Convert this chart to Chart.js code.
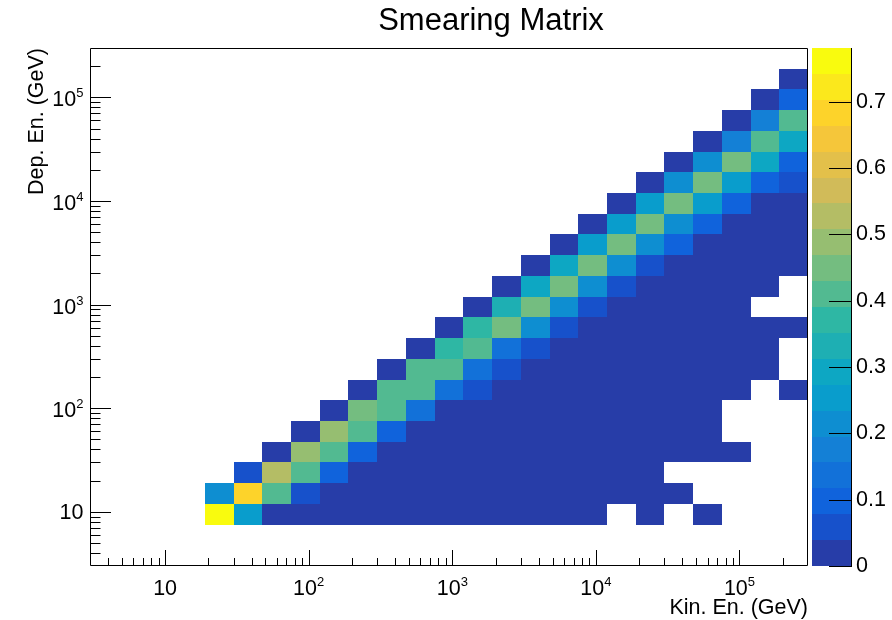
<!DOCTYPE html>
<html>
<head>
<meta charset="utf-8">
<script src="https://cdn.jsdelivr.net/npm/chart.js@4.4.0/dist/chart.umd.min.js"></script>
<style>
html,body{margin:0;padding:0;background:#fff;}
#wrap{width:892px;height:620px;}
</style>
</head>
<body>
<div id="wrap"><canvas id="c" width="892" height="620"></canvas></div>
<script>
// ---------- data ----------
const _ = null;
// log bin edges (GeV), shared by both axes: 25 bins from 3 to 3e5
const binEdges = [3, 4.7547, 7.5357, 11.943, 18.929, 30, 47.547, 75.357, 119.43, 189.29,
  300, 475.47, 753.57, 1194.3, 1892.9, 3000, 4754.7, 7535.7, 11943, 18929,
  30000, 47547, 75357, 119430, 189290, 300000];
const firstDepBin = 2;
// one array per deposited-energy bin (rows), 25 kinetic-energy bins each
const dep02 = [_,_,_,_,0.781,0.25,0.01,0.01,0.01,0.01,0.01,0.01,0.01,0.01,0.01,0.01,0.01,0.01,_,0.01,_,0.01,_,_,_];
const dep03 = [_,_,_,_,0.21,0.68,0.41,0.06,0.01,0.01,0.01,0.01,0.01,0.01,0.01,0.01,0.01,0.01,0.01,0.01,0.01,_,_,_,_];
const dep04 = [_,_,_,_,_,0.06,0.53,0.41,0.11,0.01,0.01,0.01,0.01,0.01,0.01,0.01,0.01,0.01,0.01,0.01,_,_,_,_,_];
const dep05 = [_,_,_,_,_,_,0.01,0.49,0.41,0.11,0.01,0.01,0.01,0.01,0.01,0.01,0.01,0.01,0.01,0.01,0.01,0.01,0.01,_,_];
const dep06 = [_,_,_,_,_,_,_,0.01,0.49,0.41,0.11,0.01,0.01,0.01,0.01,0.01,0.01,0.01,0.01,0.01,0.01,0.01,_,_,_];
const dep07 = [_,_,_,_,_,_,_,_,0.01,0.45,0.41,0.14,0.01,0.01,0.01,0.01,0.01,0.01,0.01,0.01,0.01,0.01,_,_,_];
const dep08 = [_,_,_,_,_,_,_,_,_,0.01,0.41,0.41,0.14,0.06,0.01,0.01,0.01,0.01,0.01,0.01,0.01,0.01,0.01,_,0.01];
const dep09 = [_,_,_,_,_,_,_,_,_,_,0.01,0.41,0.41,0.14,0.06,0.01,0.01,0.01,0.01,0.01,0.01,0.01,0.01,0.01,_];
const dep10 = [_,_,_,_,_,_,_,_,_,_,_,0.01,0.37,0.41,0.14,0.06,0.01,0.01,0.01,0.01,0.01,0.01,0.01,0.01,_];
const dep11 = [_,_,_,_,_,_,_,_,_,_,_,_,0.01,0.37,0.45,0.20,0.07,0.01,0.01,0.01,0.01,0.01,0.01,0.01,0.01];
const dep12 = [_,_,_,_,_,_,_,_,_,_,_,_,_,0.01,0.33,0.45,0.20,0.07,0.01,0.01,0.01,0.01,0.01,_,_];
const dep13 = [_,_,_,_,_,_,_,_,_,_,_,_,_,_,0.01,0.29,0.45,0.20,0.07,0.01,0.01,0.01,0.01,0.01,_];
const dep14 = [_,_,_,_,_,_,_,_,_,_,_,_,_,_,_,0.01,0.29,0.45,0.21,0.07,0.01,0.01,0.01,0.01,0.01];
const dep15 = [_,_,_,_,_,_,_,_,_,_,_,_,_,_,_,_,0.01,0.25,0.45,0.21,0.11,0.01,0.01,0.01,0.01];
const dep16 = [_,_,_,_,_,_,_,_,_,_,_,_,_,_,_,_,_,0.01,0.25,0.45,0.21,0.11,0.01,0.01,0.01];
const dep17 = [_,_,_,_,_,_,_,_,_,_,_,_,_,_,_,_,_,_,0.01,0.24,0.45,0.25,0.11,0.01,0.01];
const dep18 = [_,_,_,_,_,_,_,_,_,_,_,_,_,_,_,_,_,_,_,0.01,0.22,0.45,0.26,0.11,0.06];
const dep19 = [_,_,_,_,_,_,_,_,_,_,_,_,_,_,_,_,_,_,_,_,0.01,0.20,0.45,0.29,0.11];
const dep20 = [_,_,_,_,_,_,_,_,_,_,_,_,_,_,_,_,_,_,_,_,_,0.01,0.17,0.41,0.29];
const dep21 = [_,_,_,_,_,_,_,_,_,_,_,_,_,_,_,_,_,_,_,_,_,_,0.01,0.17,0.41];
const dep22 = [_,_,_,_,_,_,_,_,_,_,_,_,_,_,_,_,_,_,_,_,_,_,_,0.01,0.11];
const dep23 = [_,_,_,_,_,_,_,_,_,_,_,_,_,_,_,_,_,_,_,_,_,_,_,_,0.01];
const depRows = [dep02,dep03,dep04,dep05,dep06,dep07,dep08,dep09,dep10,dep11,dep12,dep13,
  dep14,dep15,dep16,dep17,dep18,dep19,dep20,dep21,dep22,dep23];

// tick labels
const majorTickValues = [10, 100, 1000, 10000, 100000];
const majorTickBase = ['10', '10', '10', '10', '10'];
const majorTickExp  = ['', '2', '3', '4', '5'];
const zTicks = [0, 0.1, 0.2, 0.3, 0.4, 0.5, 0.6, 0.7];
const zTickLabels = ['0', '0.1', '0.2', '0.3', '0.4', '0.5', '0.6', '0.7'];
const titleText = 'Smearing Matrix';
const xTitle = 'Kin. En. (GeV)';
const yTitle = 'Dep. En. (GeV)';
const nContours = 20;

// ---------- palette (ROOT kBird) ----------
const birdStops = [0.0, 0.125, 0.25, 0.375, 0.5, 0.625, 0.75, 0.875, 1.0];
const birdR = [0.2082, 0.0592, 0.0780, 0.0232, 0.1802, 0.5301, 0.8186, 0.9956, 0.9764];
const birdG = [0.1664, 0.3599, 0.5041, 0.6419, 0.7178, 0.7492, 0.7328, 0.7862, 0.9832];
const birdB = [0.5293, 0.8684, 0.8385, 0.7914, 0.6425, 0.4662, 0.3499, 0.1968, 0.0539];
function birdColor(f) {
  let s = 0;
  while (s < birdStops.length - 2 && f > birdStops[s + 1]) s++;
  const t = (f - birdStops[s]) / (birdStops[s + 1] - birdStops[s]);
  const c = (arr) => Math.round(255 * (arr[s] + (arr[s + 1] - arr[s]) * t));
  return 'rgb(' + c(birdR) + ',' + c(birdG) + ',' + c(birdB) + ')';
}
function bandColor(k) {
  const idx = Math.floor((k + 0.99) * 255 / nContours);
  return birdColor(Math.min(idx, 254) / 254);
}

const cells = [];
depRows.forEach((row, r) => {
  const j = firstDepBin + r;
  row.forEach((v, i) => {
    if (v === null) return;
    cells.push({
      x: Math.sqrt(binEdges[i] * binEdges[i + 1]),
      y: Math.sqrt(binEdges[j] * binEdges[j + 1]),
      x0: binEdges[i], x1: binEdges[i + 1],
      y0: binEdges[j], y1: binEdges[j + 1], v: v
    });
  });
});
const zMax = Math.max(...cells.map(c => c.v));
function cellColor(v) {
  let k = Math.floor(v / zMax * nContours);
  if (k > nContours - 1) k = nContours - 1;
  if (k < 0) k = 0;
  return bandColor(k);
}

const FONT = '"Liberation Sans", Arial, Helvetica, sans-serif';
const LABEL_SIZE = 21.5;
const EXP_SIZE = 13;

function drawPowerLabel(ctx, base, exp, x, baseline, align) {
  ctx.font = LABEL_SIZE + 'px ' + FONT;
  const wb = ctx.measureText(base).width;
  ctx.font = EXP_SIZE + 'px ' + FONT;
  const we = exp ? ctx.measureText(exp).width : 0;
  const total = wb + we;
  let sx = align === 'center' ? x - total / 2 : x - total;
  ctx.textAlign = 'left';
  ctx.textBaseline = 'alphabetic';
  ctx.font = LABEL_SIZE + 'px ' + FONT;
  ctx.fillText(base, sx, baseline);
  if (exp) {
    ctx.font = EXP_SIZE + 'px ' + FONT;
    ctx.fillText(exp, sx + wb, baseline - 9);
  }
}

const heatmapPlugin = {
  id: 'heatmap',
  beforeDatasetsDraw(chart) {
    const {ctx, chartArea: a, scales: {x, y}} = chart;
    const data = chart.data.datasets[0].data;
    ctx.save();
    ctx.beginPath();
    ctx.rect(a.left, a.top, a.right - a.left, a.bottom - a.top);
    ctx.clip();
    for (const c of data) {
      const px0 = Math.round(x.getPixelForValue(c.x0));
      const px1 = Math.round(x.getPixelForValue(c.x1));
      const py0 = Math.round(y.getPixelForValue(c.y0));
      const py1 = Math.round(y.getPixelForValue(c.y1));
      ctx.fillStyle = cellColor(c.v);
      ctx.fillRect(px0, py1, px1 - px0, py0 - py1);
    }
    ctx.restore();
  },
  afterDraw(chart) {
    const {ctx, chartArea: a, scales: {x, y, z}} = chart;
    ctx.save();
    // colour bar
    const cbL = a.right + 4, cbR = a.right + 44;
    for (let k = 0; k < nContours; k++) {
      const p0 = z.getPixelForValue(zMax * k / nContours);
      const p1 = z.getPixelForValue(zMax * (k + 1) / nContours);
      ctx.fillStyle = bandColor(k);
      ctx.fillRect(cbL, Math.round(p1), cbR - cbL, Math.round(p0) - Math.round(p1));
    }
    ctx.strokeStyle = '#000';
    ctx.lineWidth = 1;
    ctx.beginPath();
    ctx.moveTo(cbR - 0.5, a.top);
    ctx.lineTo(cbR - 0.5, a.bottom);
    for (const t of z.ticks) {
      const py = Math.round(z.getPixelForValue(t.value)) + 0.5;
      ctx.moveTo(cbR - 23, py);
      ctx.lineTo(cbR, py);
    }
    ctx.stroke();

    // frame
    ctx.beginPath();
    ctx.rect(a.left + 0.5, a.top + 0.5, a.right - a.left - 1, a.bottom - a.top - 1);
    ctx.stroke();

    // ticks (inward, ROOT style)
    const minorVals = [];
    for (let d = 1; d <= 100000; d *= 10) {
      for (let m = 2; m <= 9; m++) {
        const v = m * d;
        if (v > 3 && v < 300000) minorVals.push(v);
      }
    }
    ctx.beginPath();
    for (const v of minorVals) {
      const px = Math.round(x.getPixelForValue(v)) + 0.5;
      ctx.moveTo(px, a.bottom); ctx.lineTo(px, a.bottom - 8);
      const py = Math.round(y.getPixelForValue(v)) + 0.5;
      ctx.moveTo(a.left, py); ctx.lineTo(a.left + 10.5, py);
    }
    for (const v of majorTickValues) {
      const px = Math.round(x.getPixelForValue(v)) + 0.5;
      ctx.moveTo(px, a.bottom); ctx.lineTo(px, a.bottom - 16);
      const py = Math.round(y.getPixelForValue(v)) + 0.5;
      ctx.moveTo(a.left, py); ctx.lineTo(a.left + 21, py);
    }
    ctx.stroke();

    // tick labels
    ctx.fillStyle = '#000';
    majorTickValues.forEach((v, i) => {
      const px = x.getPixelForValue(v);
      drawPowerLabel(ctx, majorTickBase[i], majorTickExp[i], px, a.bottom + 29, 'center');
      const py = y.getPixelForValue(v);
      const bl = majorTickExp[i] ? py + 9 : py + 7.5;
      drawPowerLabel(ctx, majorTickBase[i], majorTickExp[i], a.left - 6.5, bl, 'right');
    });

    // axis titles
    ctx.font = LABEL_SIZE + 'px ' + FONT;
    ctx.textAlign = 'right';
    ctx.textBaseline = 'alphabetic';
    ctx.fillText(xTitle, a.right, 614);
    ctx.save();
    ctx.translate(43, a.top);
    ctx.rotate(-Math.PI / 2);
    ctx.textAlign = 'right';
    ctx.fillText(yTitle, 0, 0);
    ctx.restore();
    ctx.restore();
  }
};

new Chart(document.getElementById('c'), {
  type: 'scatter',
  data: {
    datasets: [{
      label: titleText,
      data: cells,
      pointRadius: 0,
      pointHoverRadius: 0,
      backgroundColor: 'rgba(0,0,0,0)',
      borderColor: 'rgba(0,0,0,0)'
    }]
  },
  options: {
    responsive: false,
    animation: false,
    devicePixelRatio: 1,
    events: [],
    layout: { padding: { left: 90, right: 0, top: 0, bottom: 54 } },
    plugins: {
      legend: { display: false },
      tooltip: { enabled: false },
      title: {
        display: true,
        text: titleText,
        color: '#000',
        font: { family: FONT, size: 31, weight: 'normal', lineHeight: 1.2 },
        padding: { top: 3, bottom: 7.8 }
      }
    },
    scales: {
      x: { type: 'logarithmic', min: 3, max: 300000, display: false },
      y: { type: 'logarithmic', min: 3, max: 300000, display: false },
      z: {
        type: 'linear', axis: 'y', position: 'right',
        min: 0, max: zMax,
        grid: { display: false, drawTicks: false },
        border: { display: false },
        ticks: {
          padding: 48, color: '#000',
          font: { family: FONT, size: LABEL_SIZE },
          callback: (v, i) => zTickLabels[i]
        },
        afterBuildTicks: (s) => { s.ticks = zTicks.map(v => ({ value: v })); },
        afterFit: (s) => { s.width = 84; s.paddingTop = 0; s.paddingBottom = 0; }
      }
    }
  },
  plugins: [heatmapPlugin]
});
</script>
</body>
</html>
